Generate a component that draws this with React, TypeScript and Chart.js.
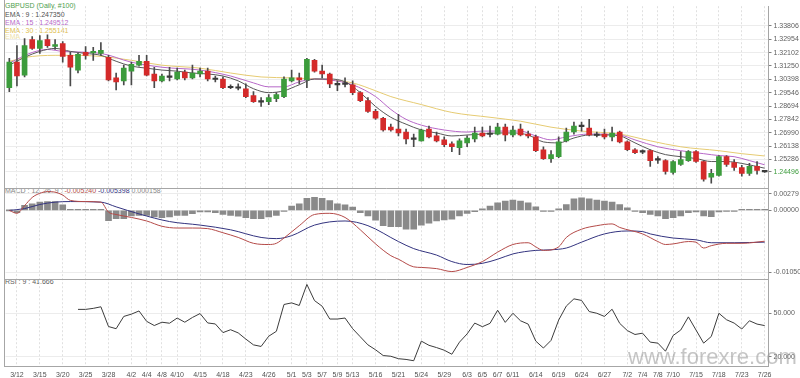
import React, { useEffect, useRef } from 'react';
import { Chart, registerables } from 'chart.js';
Chart.register(...registerables);

const dates = ['3/11','3/12','3/13','3/14','3/15','3/18','3/19','3/20','3/21','3/22',
  '3/25','3/26','3/27','3/28','3/29','4/1','4/2','4/3','4/4','4/5',
  '4/8','4/9','4/10','4/11','4/12','4/15','4/16','4/17','4/18','4/19',
  '4/22','4/23','4/24','4/25','4/26','4/29','4/30','5/1','5/2','5/3',
  '5/6','5/7','5/8','5/9','5/10','5/13','5/14','5/15','5/16','5/17',
  '5/20','5/21','5/22','5/23','5/24','5/27','5/28','5/29','5/30','5/31',
  '6/3','6/4','6/5','6/6','6/7','6/10','6/11','6/12','6/13','6/14',
  '6/17','6/18','6/19','6/20','6/21','6/24','6/25','6/26','6/27','6/28',
  '7/1','7/2','7/3','7/4','7/5','7/8','7/9','7/10','7/11','7/12',
  '7/15','7/16','7/17','7/18','7/19','7/22','7/23','7/24','7/25','7/26'];

const shownDates = ['3/12','3/15','3/20','3/25','3/28','4/2','4/4','4/8','4/10','4/15','4/18','4/23','4/26',
  '5/1','5/3','5/7','5/9','5/13','5/16','5/21','5/24','5/29','6/3','6/5','6/7','6/11','6/14','6/19','6/24',
  '6/27','7/2','7/4','7/8','7/10','7/15','7/18','7/23','7/26'];

const opens = [1.2986,1.3149,1.3067,1.3293,1.3237,1.3293,1.3249,1.3268,1.3193,1.3099,
  1.3212,1.3208,1.3205,1.3180,1.3049,1.3030,1.3092,1.3130,1.3155,1.3074,
  1.3030,1.3052,1.3042,1.3086,1.3049,1.3074,1.3092,1.3039,1.3042,1.2986,
  1.2983,1.2980,1.2936,1.2895,1.2898,1.2917,1.2930,1.3030,1.3049,1.3036,
  1.3161,1.3092,1.3074,1.3005,1.3011,1.3005,1.2955,1.2904,1.2836,1.2792,
  1.2735,1.2723,1.2704,1.2657,1.2648,1.2723,1.2679,1.2654,1.2629,1.2604,
  1.2635,1.2660,1.2698,1.2688,1.2691,1.2735,1.2685,1.2723,1.2691,1.2673,
  1.2591,1.2535,1.2547,1.2648,1.2704,1.2738,1.2729,1.2682,1.2691,1.2673,
  1.2704,1.2641,1.2591,1.2576,1.2585,1.2525,1.2522,1.2447,1.2497,1.2522,
  1.2579,1.2516,1.2416,1.2428,1.2547,1.2510,1.2478,1.2441,1.2485,1.2451];

const highs = [1.3174,1.3255,1.3299,1.3312,1.3318,1.3324,1.3293,1.3280,1.3212,1.3205,
  1.3249,1.3243,1.3274,1.3193,1.3080,1.3130,1.3149,1.3193,1.3193,1.3117,
  1.3074,1.3117,1.3111,1.3099,1.3130,1.3111,1.3111,1.3061,1.3055,1.3005,
  1.3011,1.3011,1.2961,1.2923,1.2942,1.2955,1.3055,1.3099,1.3080,1.3174,
  1.3168,1.3130,1.3080,1.3030,1.3049,1.3030,1.2961,1.2923,1.2848,1.2798,
  1.2754,1.2817,1.2723,1.2691,1.2723,1.2742,1.2704,1.2673,1.2641,1.2660,
  1.2679,1.2735,1.2735,1.2742,1.2760,1.2754,1.2742,1.2754,1.2710,1.2685,
  1.2610,1.2585,1.2673,1.2729,1.2767,1.2767,1.2785,1.2704,1.2723,1.2735,
  1.2710,1.2648,1.2598,1.2591,1.2591,1.2547,1.2529,1.2522,1.2579,1.2585,
  1.2585,1.2522,1.2466,1.2554,1.2554,1.2529,1.2491,1.2504,1.2516,1.2454];

const lows = [1.2961,1.2998,1.3055,1.3230,1.3205,1.3243,1.3230,1.3149,1.2998,1.3080,
  1.3168,1.3161,1.3193,1.3030,1.2973,1.3005,1.3005,1.3124,1.3061,1.2986,
  1.3024,1.3030,1.3036,1.3036,1.3042,1.3055,1.3030,1.3024,1.2980,1.2980,
  1.2973,1.2923,1.2892,1.2867,1.2879,1.2898,1.2923,1.3024,1.3011,1.2986,
  1.3086,1.3049,1.2986,1.2967,1.2992,1.2942,1.2898,1.2829,1.2785,1.2710,
  1.2710,1.2679,1.2629,1.2610,1.2645,1.2666,1.2641,1.2610,1.2579,1.2560,
  1.2610,1.2641,1.2673,1.2673,1.2685,1.2648,1.2673,1.2679,1.2666,1.2579,
  1.2529,1.2510,1.2541,1.2641,1.2691,1.2710,1.2679,1.2673,1.2660,1.2648,
  1.2635,1.2585,1.2566,1.2566,1.2485,1.2504,1.2435,1.2435,1.2491,1.2516,
  1.2510,1.2391,1.2378,1.2422,1.2485,1.2460,1.2422,1.2428,1.2435,1.2446];

const closes = [1.3149,1.3061,1.3255,1.3237,1.3287,1.3255,1.3262,1.3186,1.3117,1.3199,
  1.3193,1.3215,1.3224,1.3036,1.3024,1.3111,1.3136,1.3155,1.3067,1.3030,
  1.3061,1.3055,1.3086,1.3049,1.3080,1.3092,1.3042,1.3042,1.2986,1.2989,
  1.2986,1.2930,1.2898,1.2898,1.2923,1.2942,1.3042,1.3049,1.3036,1.3168,
  1.3092,1.3074,1.3011,1.3008,1.3008,1.2955,1.2904,1.2836,1.2792,1.2717,
  1.2717,1.2698,1.2660,1.2660,1.2717,1.2673,1.2648,1.2623,1.2610,1.2648,
  1.2666,1.2698,1.2679,1.2691,1.2735,1.2685,1.2717,1.2685,1.2679,1.2585,
  1.2535,1.2560,1.2641,1.2704,1.2742,1.2742,1.2685,1.2685,1.2673,1.2698,
  1.2641,1.2591,1.2572,1.2579,1.2522,1.2529,1.2453,1.2516,1.2529,1.2579,
  1.2516,1.2403,1.2441,1.2547,1.2497,1.2478,1.2441,1.2485,1.2460,1.24496];

const ema9Idx = [0,2,4,6,8,10,12,14,16,18,20,22,24,26,28,30,32,34,36,38,40,42,44,46,48,50,52,54,56,58,60,62,64,66,68,70,72,74,76,78,80,82,84,86,88,90,92,94,96,99];
const ema9Val = [1.3130,1.3180,1.3218,1.3237,1.3218,1.3205,1.3193,1.3155,1.3124,1.3111,1.3099,1.3092,1.3080,1.3074,1.3061,1.3030,1.2980,1.2955,1.2967,1.3005,1.3042,1.3042,1.3024,1.2955,1.2867,1.2798,1.2754,1.2717,1.2698,1.2679,1.2685,1.2691,1.2698,1.2698,1.2685,1.2641,1.2635,1.2666,1.2685,1.2685,1.2679,1.2635,1.2591,1.2560,1.2547,1.2535,1.2516,1.2516,1.2504,1.24735];

const ema15Idx = [0,3,5,7,12,16,20,25,29,32,34,36,38,40,42,45,48,50,52,54,57,60,62,64,67,69,71,73,76,80,82,85,88,91,93,95,97,99];
const ema15Val = [1.3143,1.3211,1.3230,1.3218,1.3205,1.3149,1.3117,1.3099,1.3061,1.3017,1.2992,1.2992,1.3024,1.3042,1.3036,1.3005,1.2930,1.2848,1.2785,1.2748,1.2717,1.2704,1.2710,1.2710,1.2710,1.2679,1.2654,1.2673,1.2691,1.2685,1.2654,1.2610,1.2585,1.2566,1.2554,1.2547,1.2522,1.249512];

const ema30Idx = [0,3,7,12,16,20,25,29,33,37,42,45,48,50,54,58,63,67,71,75,80,84,88,93,96,99];
const ema30Val = [1.3155,1.3186,1.3193,1.3186,1.3161,1.3130,1.3111,1.3080,1.3055,1.3049,1.3036,1.3017,1.2967,1.2930,1.2879,1.2829,1.2798,1.2773,1.2735,1.2710,1.2691,1.2648,1.2610,1.2585,1.2566,1.255141];

const macdIdx = [0,1,2,3,4,5,6,7,8,10,12,13,14,16,18,20,22,24,26,28,30,32,34,35,36,38,40,42,44,46,48,50,51,53,54,56,58,60,62,64,66,68,69,70,72,73,75,77,79,80,83,85,86,87,89,90,91,92,94,96,99];
const macdVal = [0,-0.0005,0.0008,0.0022,0.0029,0.0032,0.0031,0.0026,0.0017,0.0015,0.0014,-0.0003,-0.0007,-0.0012,-0.0018,-0.0027,-0.0030,-0.0030,-0.0031,-0.0038,-0.0046,-0.0056,-0.0058,-0.0056,-0.0047,-0.0026,-0.0007,-0.0005,-0.0012,-0.0033,-0.0057,-0.0077,-0.0083,-0.0096,-0.0097,-0.0099,-0.0104,-0.0097,-0.0087,-0.0071,-0.0058,-0.0055,-0.0062,-0.0068,-0.0062,-0.0046,-0.0032,-0.0026,-0.0023,-0.0029,-0.0040,-0.0053,-0.0058,-0.0057,-0.0053,-0.0054,-0.0064,-0.0060,-0.0056,-0.0056,-0.00524];

const signalIdx = [0,2,4,6,8,12,14,17,21,25,29,33,35,37,40,44,47,51,53,56,58,60,62,64,66,69,71,73,75,78,81,83,84,87,90,92,95,99];
const signalVal = [0,0.0003,0.0010,0.0014,0.0015,0.0014,0.0006,-0.0006,-0.0019,-0.0025,-0.0033,-0.0046,-0.0048,-0.0043,-0.0025,-0.0018,-0.0026,-0.0053,-0.0065,-0.0076,-0.0087,-0.0092,-0.0090,-0.0083,-0.0074,-0.0068,-0.0067,-0.0064,-0.0054,-0.0040,-0.0035,-0.0036,-0.0040,-0.0047,-0.0050,-0.0055,-0.0055,-0.005398];

const histValues = [0,-0.0004,0.00084,0.0011,0.0014,0.0015,0.0015,0.00095,0.0001,0.0001,
  0.0001,0.0001,0.00005,-0.00173,-0.00139,-0.00139,-0.00095,-0.00084,-0.00084,-0.00111,
  -0.00123,-0.00111,-0.00084,-0.00084,-0.00056,-0.00028,-0.00028,-0.00039,-0.00067,-0.00084,
  -0.001,-0.00123,-0.00139,-0.00139,-0.00111,-0.00084,-0.0001,0.00072,0.00111,0.00206,
  0.00223,0.00206,0.00167,0.00111,0.00095,0.00056,-0.00039,-0.00095,-0.00167,-0.00262,
  -0.00279,-0.00279,-0.00318,-0.00318,-0.0025,-0.00217,-0.00178,-0.00162,-0.0015,-0.00095,
  -0.0005,-0.00022,0.00028,0.00072,0.00128,0.00156,0.00173,0.00156,0.00128,0.00061,
  -0.0001,-0.0001,0.00028,0.001,0.00195,0.00212,0.00195,0.00173,0.00156,0.00139,
  0.001,0.00045,-0.0001,-0.00039,-0.00067,-0.00095,-0.00139,-0.00123,-0.00095,-0.00039,
  -0.00028,-0.00095,-0.00106,-0.00028,-0.0001,-0.00005,0.00002,0.0001,0.00012,0.000158];

const rsiStart = 9;
const rsiValues = [52.9,52.9,53.6,54.7,41.0,39.5,48.0,49.6,51.8,44.6,41.7,44.0,43.3,46.9,44.0,47.3,50.0,43.5,42.8,36.8,
  38.8,36.6,32.3,28.3,27.2,34.3,37.7,56.3,57.4,55.6,70.2,59.0,55.1,46.2,46.2,46.9,39.5,33.9,28.3,24.9,
  20.9,20.4,18.7,18.2,17.3,30.9,28.0,26.4,24.6,21.8,30.2,35.9,43.4,40.9,43.2,52.3,43.9,50.2,45.0,42.7,
  30.9,26.1,31.4,45.5,55.2,60.2,59.1,51.4,50.2,48.0,53.0,43.2,38.2,35.5,36.4,30.2,29.5,23.9,34.8,38.6,
  47.7,38.6,29.5,34.1,50.2,45.7,43.4,39.3,45.0,42.7,41.666];

const mainTicks = [1.33806,1.32954,1.32102,1.3125,1.30398,1.29546,1.28694,1.27842,1.2699,1.26138,1.25286,1.24496];
const macdTicks = [0.00279, 0, -0.0105];
const rsiTicks = [50, 20];

const FONT = "'Liberation Sans', Arial, sans-serif";

const txt = (top: number, left: number, color: string): React.CSSProperties => ({
  position: 'absolute', top, left, color, fontFamily: FONT, fontSize: 7, lineHeight: '8px', whiteSpace: 'nowrap',
});

export default function App() {
  const ref = useRef<HTMLCanvasElement>(null);
  useEffect(() => {
    const canvas = ref.current;
    if (!canvas) return;
    const sparse = (idx: number[], val: number[]) => idx.map((i, k) => ({ x: dates[i], y: val[k] }));
    const bodyColors = closes.map((c, i) =>
      Math.abs(c - opens[i]) < 0.0004 ? '#3a3a3a' : c >= opens[i] ? '#3c9c3c' : '#d42a2a');
    const lastClose = closes[closes.length - 1];

    const panelPlugin = {
      id: 'panels',
      afterDraw(chart: any) {
        const { ctx, chartArea } = chart;
        const s = chart.scales;
        ctx.save();
        ctx.strokeStyle = '#a6a6a6';
        ctx.lineWidth = 1;
        ctx.beginPath();
        for (const id of ['y', 'macd', 'rsi']) {
          const yy = Math.round(s[id].bottom) + 0.5;
          ctx.moveTo(4, yy);
          ctx.lineTo(chartArea.right, yy);
        }
        ctx.moveTo(4.5, 0);
        ctx.lineTo(4.5, Math.round(s.rsi.bottom) + 0.5);
        ctx.stroke();
        ctx.restore();
      },
    };

    const yCommon = (ticksArr: number[], fmt: (v: number) => string) => ({
      position: 'right' as const,
      stack: 'panels',
      afterFit: (sc: any) => { sc.width = 31.5; },
      afterBuildTicks: (sc: any) => { sc.ticks = ticksArr.map((v) => ({ value: v })); },
      grid: { color: '#ececec', tickColor: '#808080', tickLength: 3, drawTicks: true },
      border: { display: true, color: '#a6a6a6' },
      ticks: { autoSkip: false, padding: 2, font: { size: 7, family: FONT }, color: '#606060', callback: (v: any) => fmt(Number(v)) },
    });

    const chart = new Chart(canvas, {
      type: 'bar',
      data: {
        labels: dates,
        datasets: [
          { type: 'bar', label: 'body', data: opens.map((o, i) => [o, closes[i]]), backgroundColor: bodyColors,
            barThickness: 5, grouped: false, minBarLength: 1.5, yAxisID: 'y', order: 0 } as any,
          { type: 'bar', label: 'wick', data: lows.map((l, i) => [l, highs[i]]), backgroundColor: '#4a4a4a',
            barThickness: 1, grouped: false, yAxisID: 'y', order: 1 } as any,
          { type: 'line', label: 'EMA 30', data: sparse(ema30Idx, ema30Val), borderColor: '#e6cb72', borderWidth: 1,
            pointRadius: 0, cubicInterpolationMode: 'monotone', yAxisID: 'y', order: 4 } as any,
          { type: 'line', label: 'EMA 15', data: sparse(ema15Idx, ema15Val), borderColor: '#b768c8', borderWidth: 1,
            pointRadius: 0, cubicInterpolationMode: 'monotone', yAxisID: 'y', order: 3 } as any,
          { type: 'line', label: 'EMA 9', data: sparse(ema9Idx, ema9Val), borderColor: '#585858', borderWidth: 1,
            pointRadius: 0, cubicInterpolationMode: 'monotone', yAxisID: 'y', order: 2 } as any,
          { type: 'bar', label: 'hist', data: histValues, backgroundColor: '#8a8a8a', barThickness: 6, grouped: false,
            minBarLength: 1, yAxisID: 'macd', order: 5 } as any,
          { type: 'line', label: 'MACD', data: sparse(macdIdx, macdVal), borderColor: '#b44a48', borderWidth: 1,
            pointRadius: 0, cubicInterpolationMode: 'monotone', yAxisID: 'macd', order: 1 } as any,
          { type: 'line', label: 'Signal', data: sparse(signalIdx, signalVal), borderColor: '#33337f', borderWidth: 1,
            pointRadius: 0, cubicInterpolationMode: 'monotone', yAxisID: 'macd', order: 1 } as any,
          { type: 'line', label: 'RSI', data: rsiValues.map((v, k) => ({ x: dates[rsiStart + k], y: v })),
            borderColor: '#3c3c3c', borderWidth: 1, pointRadius: 0, tension: 0, yAxisID: 'rsi', order: 1 } as any,
        ],
      },
      options: {
        animation: false,
        responsive: false,
        devicePixelRatio: 1,
        layout: { padding: { left: 5.5, right: 0, top: 0, bottom: 0 } },
        plugins: { legend: { display: false }, tooltip: { enabled: false } },
        scales: {
          x: {
            type: 'category',
            offset: true,
            afterFit: (sc: any) => { sc.height = 12; },
            grid: {
              offset: false, drawTicks: false, lineWidth: 1,
              color: (c: any) => (shownDates.includes(dates[c.index]) ? '#e0e0e0' : 'rgba(0,0,0,0)'),
            },
            border: { display: false, dash: [2, 2] },
            ticks: {
              autoSkip: false, maxRotation: 0, minRotation: 0, padding: 5,
              font: { size: 7, family: FONT }, color: '#505050',
              callback: (v: any, i: number) => (shownDates.includes(dates[i]) ? dates[i] : ''),
            },
          },
          y: {
            ...yCommon(mainTicks, (v) => v.toFixed(5)),
            min: 1.23469, max: 1.35059, stackWeight: 185,
            ticks: {
              autoSkip: false, padding: 2, font: { size: 7, family: FONT },
              color: (c: any) => (c.tick && Math.abs(c.tick.value - lastClose) < 1e-7 ? '#3c9c3c' : '#606060'),
              callback: (v: any) => Number(v).toFixed(5),
            },
          } as any,
          macd: {
            ...yCommon(macdTicks, (v) => v.toFixed(5)),
            min: -0.01158, max: 0.003793, stackWeight: 92,
          } as any,
          rsi: {
            ...yCommon(rsiTicks, (v) => v.toFixed(3)),
            min: 13.65, max: 74.3, stackWeight: 89,
          } as any,
        },
      } as any,
      plugins: [panelPlugin],
    });
    return () => chart.destroy();
  }, []);

  return (
    <div style={{ position: 'absolute', left: 0, top: 0, width: 800, height: 378, overflow: 'hidden', background: '#fff' }}>
      <div style={txt(2, 5, '#4e9e4e')}>GBPUSD (Daily, #100)</div>
      <div style={txt(10.5, 5, '#505050')}>EMA : 9 : 1.247350</div>
      <div style={txt(18.5, 5, '#b768c8')}>EMA : 15 : 1.249512</div>
      <div style={txt(26.5, 5, '#e0c050')}>EMA : 30 : 1.255141</div>
      <div style={txt(33, 5, '#efe3a8')}>EMA</div>
      <div style={txt(186.5, 5, '#888')}>
        MACD : 12, 26, 9 : <span style={{ color: '#b44a48' }}>-0.005240</span>{' '}
        <span style={{ color: '#33337f' }}>-0.005398</span> 0.000158
      </div>
      <div style={txt(278, 5, '#606060')}>RSI : 9 : 41.666</div>
      <canvas ref={ref} width={800} height={378}
        style={{ position: 'absolute', left: 0, top: 0, width: 800, height: 378, zIndex: 1 }} />
      <div style={{ position: 'absolute', left: 628, top: 344, zIndex: 2, fontFamily: FONT, fontSize: 22,
        color: 'rgba(150,150,150,0.55)', whiteSpace: 'nowrap' }}>www.forexre.com</div>
    </div>
  );
}
